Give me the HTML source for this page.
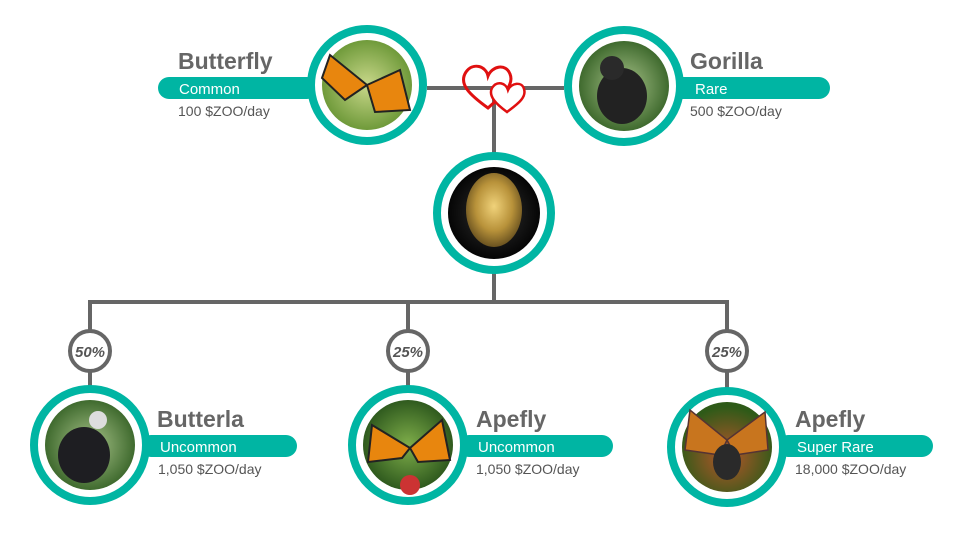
<!DOCTYPE html>
<html><head><meta charset="utf-8"><style>
html,body{margin:0;padding:0;background:#fff;width:960px;height:540px;overflow:hidden}
svg text{font-family:"Liberation Sans",sans-serif}
</style></head><body>
<svg width="960" height="540" viewBox="0 0 960 540" xmlns="http://www.w3.org/2000/svg">
<defs>
<radialGradient id="egg" cx="50%" cy="45%" r="55%"><stop offset="0" stop-color="#f0d27a"/><stop offset="0.6" stop-color="#b8923a"/><stop offset="1" stop-color="#6b5320"/></radialGradient>
<radialGradient id="blk" cx="50%" cy="50%" r="50%"><stop offset="0" stop-color="#333"/><stop offset="1" stop-color="#050505"/></radialGradient>
<radialGradient id="grn" cx="50%" cy="50%" r="50%"><stop offset="0" stop-color="#c9d88a"/><stop offset="1" stop-color="#6f9a3a"/></radialGradient>
<radialGradient id="for" cx="50%" cy="50%" r="50%"><stop offset="0" stop-color="#a9c48a"/><stop offset="1" stop-color="#3f6a2e"/></radialGradient>
<radialGradient id="dgr" cx="50%" cy="50%" r="50%"><stop offset="0" stop-color="#7fae4a"/><stop offset="1" stop-color="#2f5a1e"/></radialGradient>
<radialGradient id="red" cx="50%" cy="60%" r="55%"><stop offset="0" stop-color="#b8552a"/><stop offset="1" stop-color="#2e5a18"/></radialGradient>
</defs>
<g stroke="#666" stroke-width="4" fill="none">
<line x1="427" y1="88" x2="564" y2="88"/>
<line x1="494" y1="88" x2="494" y2="153"/>
<line x1="494" y1="273" x2="494" y2="302"/>
<line x1="88" y1="302" x2="729" y2="302"/>
<line x1="90" y1="300" x2="90" y2="386"/>
<line x1="408" y1="300" x2="408" y2="386"/>
<line x1="727" y1="300" x2="727" y2="388"/>
</g>
<!-- pills -->
<rect x="158" y="77" width="160" height="22" rx="11" fill="#00b5a3"/>
<rect x="630" y="77" width="200" height="22" rx="11" fill="#00b5a3"/>
<rect x="140" y="435" width="157" height="22" rx="11" fill="#00b5a3"/>
<rect x="458" y="435" width="155" height="22" rx="11" fill="#00b5a3"/>
<rect x="777" y="435" width="156" height="22" rx="11" fill="#00b5a3"/>
<!-- circles -->
<g stroke="#00b5a3" stroke-width="8" fill="#fff">
<circle cx="367" cy="85" r="56"/>
<circle cx="624" cy="86" r="56"/>
<circle cx="494" cy="213" r="57"/>
<circle cx="90" cy="445" r="56"/>
<circle cx="408" cy="445" r="56"/>
<circle cx="727" cy="447" r="56"/>
</g>
<circle cx="367" cy="85" r="45" fill="url(#grn)"/>
<path d="M367 85 L330 55 L322 78 L345 100 Z M367 85 L400 70 L410 110 L375 112 Z" fill="#e8860e" stroke="#222" stroke-width="2"/>
<circle cx="624" cy="86" r="45" fill="url(#for)"/>
<ellipse cx="622" cy="96" rx="25" ry="28" fill="#222"/><circle cx="612" cy="68" r="12" fill="#2a2a2a"/>
<circle cx="494" cy="213" r="46" fill="url(#blk)"/>
<ellipse cx="494" cy="210" rx="28" ry="37" fill="url(#egg)"/>
<circle cx="90" cy="445" r="45" fill="url(#for)"/>
<ellipse cx="84" cy="455" rx="26" ry="28" fill="#1e1e22"/><circle cx="98" cy="420" r="9" fill="#ddd"/>
<circle cx="408" cy="445" r="45" fill="url(#dgr)"/>
<path d="M410 448 L372 425 L368 462 L402 458 Z M410 448 L442 420 L450 460 L418 462 Z" fill="#e8860e" stroke="#222" stroke-width="2"/>
<circle cx="410" cy="485" r="10" fill="#c33"/>
<circle cx="727" cy="447" r="45" fill="url(#red)"/>
<path d="M727 440 L690 410 L685 450 L720 455 Z M727 440 L765 412 L768 450 L735 455 Z" fill="#c8751e" stroke="#533" stroke-width="1.5"/>
<ellipse cx="727" cy="462" rx="14" ry="18" fill="#2a2a2a"/>
<!-- hearts -->
<path d="M488 108 C470 95 458 84 466 72 C473 62 486 66 488 76 C492 66 506 63 510 74 C515 86 500 97 488 108 Z" fill="none" stroke="#e01010" stroke-width="3"/>
<path d="M507 112 C496 104 488 96 492 88 C497 80 506 83 508 90 C511 83 522 81 524 89 C527 98 516 105 507 112 Z" fill="#fff" stroke="#e01010" stroke-width="2.5"/>
<!-- percentage circles -->
<g stroke="#666" stroke-width="4" fill="#fff">
<circle cx="90" cy="351" r="20"/><circle cx="408" cy="351" r="20"/><circle cx="727" cy="351" r="20"/>
</g>
<g font-size="15" font-weight="bold" font-style="italic" fill="#555" text-anchor="middle">
<text x="90" y="357">50%</text><text x="408" y="357">25%</text><text x="727" y="357">25%</text>
</g>
<!-- text -->
<g font-weight="bold" font-size="23" fill="#666">
<text x="178" y="69">Butterfly</text>
<text x="690" y="69">Gorilla</text>
<text x="157" y="427">Butterla</text>
<text x="476" y="427">Apefly</text>
<text x="795" y="427">Apefly</text>
</g>
<g font-size="15" fill="#fff">
<text x="179" y="94">Common</text>
<text x="695" y="94">Rare</text>
<text x="160" y="452">Uncommon</text>
<text x="478" y="452">Uncommon</text>
<text x="797" y="452">Super Rare</text>
</g>
<g font-size="14" fill="#555">
<text x="178" y="116">100 $ZOO/day</text>
<text x="690" y="116">500 $ZOO/day</text>
<text x="158" y="474">1,050 $ZOO/day</text>
<text x="476" y="474">1,050 $ZOO/day</text>
<text x="795" y="474">18,000 $ZOO/day</text>
</g>
</svg>
</body></html>
